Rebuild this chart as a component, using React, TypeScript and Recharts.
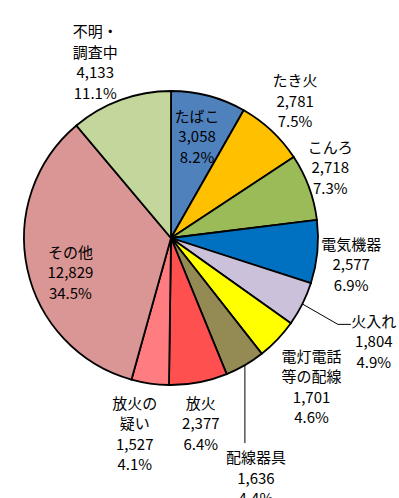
import React from "react";
import { PieChart, Pie, Cell } from "recharts";

const causes = [
  "たばこ",
  "たき火",
  "こんろ",
  "電気機器",
  "火入れ",
  "電灯電話\n等の配線",
  "配線器具",
  "放火",
  "放火の\n疑い",
  "その他",
  "不明・\n調査中",
];
const counts = [3058, 2781, 2718, 2577, 1804, 1701, 1636, 2377, 1527, 12829, 4133];
const colors = [
  "#4F81BD",
  "#FFC000",
  "#9BBB59",
  "#0070C0",
  "#CCC1DA",
  "#FFFF00",
  "#948A54",
  "#FF5050",
  "#FF7C80",
  "#D99694",
  "#C3D69B",
];

const data = causes.map((name, i) => ({ name, value: counts[i] }));

// label placement: radius from centre plus small nudges
const layout = [
  { r: 106, dx: -1, dy: 0 },
  { r: 186, dx: -3, dy: -2 },
  { r: 174, dx: -4, dy: -11 },
  { r: 186, dx: -5, dy: 8 },
  { r: 227, dx: 0, dy: 1, leader: "bend" },
  { r: 204, dx: -7, dy: 7 },
  { r: 147, dx: 11, dy: 112, leader: "down" },
  { r: 187, dx: -5, dy: 1 },
  { r: 198, dx: -8, dy: -1 },
  { r: 107, dx: 4, dy: 11 },
  { r: 192, dx: -10, dy: 4 },
];

const RAD = Math.PI / 180;
const polar = (cx: number, cy: number, r: number, a: number) => [
  cx + r * Math.cos(-a * RAD),
  cy + r * Math.sin(-a * RAD),
];

const LINE_H = 20.5;

const renderLabel = (props: any) => {
  const { cx, cy, midAngle, outerRadius, index, value, percent } = props;
  const cfg = layout[index];
  const [px, py] = polar(cx, cy, cfg.r, midAngle);
  const x = px + cfg.dx;
  const y = py + cfg.dy;
  const lines = [
    ...causes[index].split("\n"),
    value.toLocaleString("en-US"),
    (percent * 100).toFixed(1) + "%",
  ];
  const top = y - ((lines.length - 1) * LINE_H) / 2;
  const [ex, ey] = polar(cx, cy, outerRadius, midAngle);
  let leader = null;
  if (cfg.leader === "bend") {
    leader = (
      <polyline
        points={`${ex},${ey} ${x - 36},${top + 4} ${x - 23},${top + 4}`}
        fill="none"
        stroke="#000"
        strokeWidth={1}
      />
    );
  } else if (cfg.leader === "down") {
    leader = <line x1={ex} y1={ey} x2={ex} y2={ey + 78} stroke="#000" strokeWidth={1} />;
  }
  return (
    <g key={`lbl-${index}`}>
      {leader}
      {lines.map((t, i) => (
        <text
          key={i}
          x={x}
          y={top + i * LINE_H}
          textAnchor="middle"
          dominantBaseline="central"
          fontSize={15}
          fill="#000"
          fontFamily="'Noto Sans CJK JP', 'Noto Sans', sans-serif"
        >
          {t}
        </text>
      ))}
    </g>
  );
};

export default function App() {
  return (
    <div style={{ position: "absolute", left: 0, top: 0, width: 399, height: 498, background: "#fff" }}>
      <PieChart width={399} height={498}>
        <Pie
          data={data}
          dataKey="value"
          nameKey="name"
          cx={166}
          cy={233}
          outerRadius={147}
          startAngle={90}
          endAngle={-270}
          stroke="#000"
          strokeWidth={1.8}
          label={renderLabel}
          labelLine={false}
          isAnimationActive={false}
        >
          {data.map((d, i) => (
            <Cell key={d.name} fill={colors[i]} />
          ))}
        </Pie>
      </PieChart>
    </div>
  );
}
